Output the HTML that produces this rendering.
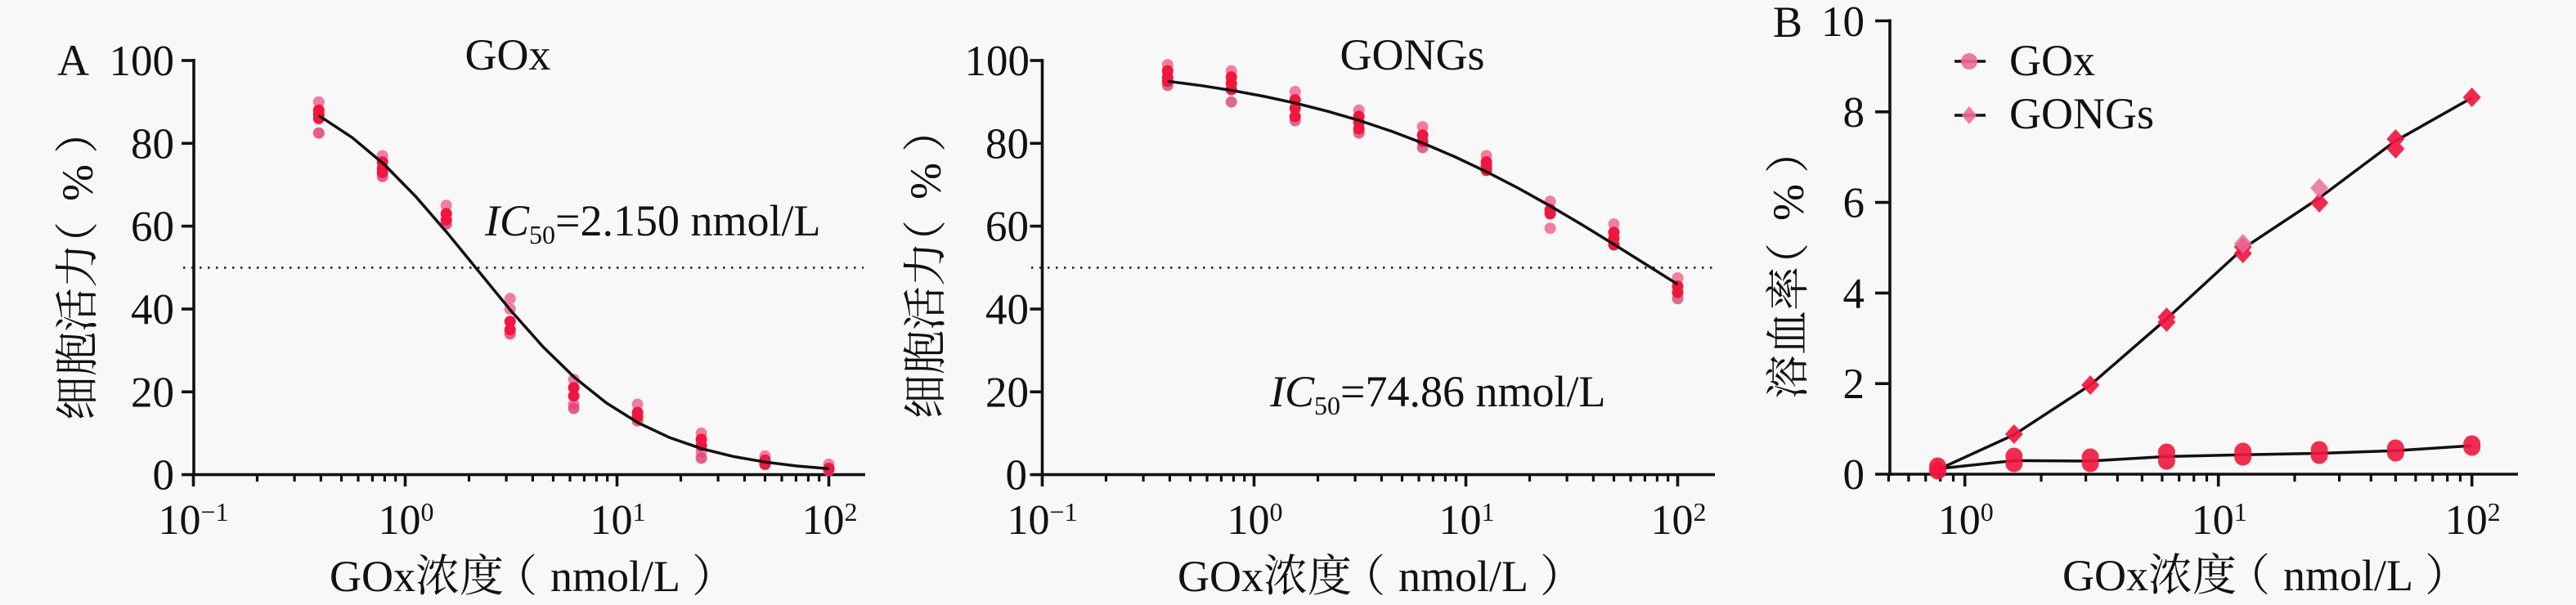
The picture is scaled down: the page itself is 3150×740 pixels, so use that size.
<!DOCTYPE html>
<html><head><meta charset="utf-8"><style>
html,body{margin:0;padding:0;background:#f8f8f8;}
svg{display:block;}
text{font-family:"Liberation Serif","Noto Serif CJK SC",serif;fill:#111;}
</style></head><body>
<svg width="3150" height="740" viewBox="0 0 3150 740" xmlns="http://www.w3.org/2000/svg">
<rect width="3150" height="740" fill="#f8f8f8"/>

<!-- ================= PANEL A ================= -->
<g stroke="#111" stroke-width="3.6" fill="none" stroke-linecap="butt">
  <line x1="237" y1="72" x2="237" y2="582.5"/>
  <line x1="222" y1="580.6" x2="1058" y2="580.6"/>
  <line x1="222" y1="74" x2="237" y2="74"/>
  <line x1="222" y1="175.3" x2="237" y2="175.3"/>
  <line x1="222" y1="276.6" x2="237" y2="276.6"/>
  <line x1="222" y1="378" x2="237" y2="378"/>
  <line x1="222" y1="479.3" x2="237" y2="479.3"/>
  <line x1="236.5" y1="580" x2="236.5" y2="595"/>
  <line x1="495.5" y1="580" x2="495.5" y2="595"/>
  <line x1="754.5" y1="580" x2="754.5" y2="595"/>
  <line x1="1013.5" y1="580" x2="1013.5" y2="595"/>
</g>
<g stroke="#111" stroke-width="3.2">
  <path d="M314.5 580v9M360.1 580v9M392.4 580v9M417.5 580v9M438 580v9M455.4 580v9M470.4 580v9M483.7 580v9
  M573.5 580v9M619.1 580v9M651.4 580v9M676.5 580v9M697 580v9M714.4 580v9M729.4 580v9M742.7 580v9
  M832.5 580v9M878.1 580v9M910.4 580v9M935.5 580v9M956 580v9M973.4 580v9M988.4 580v9M1001.7 580v9"/>
</g>
<line x1="224" y1="327.4" x2="1056" y2="327.4" stroke="#222" stroke-width="2.6" stroke-dasharray="2.5 7.5"/>

<g font-size="53" text-anchor="end">
  <text x="213" y="92">100</text>
  <text x="213" y="193.3">80</text>
  <text x="213" y="294.6">60</text>
  <text x="213" y="396">40</text>
  <text x="213" y="497.3">20</text>
  <text x="213" y="598.6">0</text>
</g>
<g font-size="52" text-anchor="middle">
  <text x="236.5" y="653">10<tspan font-size="32" dy="-16">−1</tspan></text>
  <text x="496.5" y="653">10<tspan font-size="32" dy="-16">0</tspan></text>
  <text x="755.5" y="653">10<tspan font-size="32" dy="-16">1</tspan></text>
  <text x="1014.5" y="653">10<tspan font-size="32" dy="-16">2</tspan></text>
</g>
<text x="70" y="92" font-size="54">A</text>
<text x="621" y="85" font-size="54" text-anchor="middle">GOx</text>
<text x="593" y="288" font-size="54"><tspan font-style="italic">IC</tspan><tspan font-size="32" dy="10">50</tspan><tspan dy="-10">=2.150 nmol/L</tspan></text>
<text y="723" font-size="54"><tspan x="403">GOx浓度</tspan><tspan x="603">（</tspan><tspan x="673">nmol/L</tspan><tspan x="846">）</tspan></text>
<text transform="translate(95,514) rotate(-90)" font-size="54" dominant-baseline="central"><tspan x="0">细胞活力</tspan><tspan x="189">（</tspan><tspan x="268">%</tspan><tspan x="326">）</tspan></text>

<!-- points A -->
<g>
  <g fill="#f06890" opacity="0.85">
    <circle cx="389.8" cy="124.7" r="7"/><circle cx="467.7" cy="190.5" r="7"/><circle cx="545.7" cy="251.3" r="7"/>
    <circle cx="623.7" cy="365.3" r="7"/><circle cx="701.6" cy="464.1" r="7"/><circle cx="779.6" cy="494.5" r="7"/>
    <circle cx="857.6" cy="529.9" r="7"/><circle cx="935.5" cy="557.8" r="7"/><circle cx="1013.5" cy="567.9" r="7"/>
    <circle cx="623.7" cy="378" r="7"/><circle cx="701.6" cy="494.5" r="7"/><circle cx="857.6" cy="552.7" r="7"/>
  </g>
  <g fill="#e8407a" opacity="0.85">
    <circle cx="389.8" cy="162.7" r="7"/><circle cx="467.7" cy="215.8" r="7"/><circle cx="545.7" cy="274.1" r="7"/>
    <circle cx="623.7" cy="408.4" r="7"/><circle cx="701.6" cy="499.5" r="7"/><circle cx="779.6" cy="514.7" r="7"/>
    <circle cx="857.6" cy="560.3" r="7"/><circle cx="1013.5" cy="575.5" r="7"/>
  </g>
  <g fill="#f2163f">
    <circle cx="389.8" cy="134.8" r="7"/><circle cx="389.8" cy="139.9" r="7"/><circle cx="389.8" cy="144.9" r="7"/>
    <circle cx="467.7" cy="198.1" r="7"/><circle cx="467.7" cy="205.7" r="7"/><circle cx="467.7" cy="210.8" r="7"/>
    <circle cx="545.7" cy="261.4" r="7"/><circle cx="545.7" cy="269" r="7"/>
    <circle cx="623.7" cy="393.2" r="7"/><circle cx="623.7" cy="403.3" r="7"/>
    <circle cx="701.6" cy="474.2" r="7"/><circle cx="701.6" cy="484.3" r="7"/>
    <circle cx="779.6" cy="504.6" r="7"/><circle cx="779.6" cy="509.7" r="7"/>
    <circle cx="857.6" cy="537.5" r="7"/><circle cx="857.6" cy="545.1" r="7"/>
    <circle cx="935.5" cy="562.9" r="7"/><circle cx="935.5" cy="567.9" r="7"/>
    <circle cx="1013.5" cy="573" r="7"/>
  </g>
</g>
<path d="M389.8 141.3 L430.75 168.3 L469.6 200.9 L508.4 240.4 L547.3 285.3 L586.15 332.9 L625 380.3 L663.85 424 L702.7 461.9 L741.55 492.9 L780.4 517.2 L819.25 535.4 L858.1 548.8 L896.95 558.4 L935.8 565.2 L974.65 570 L1013.5 573.3" fill="none" stroke="#111" stroke-width="3.5" stroke-linejoin="round"/>

<!-- ================= PANEL B (GONGs) ================= -->
<g stroke="#111" stroke-width="3.6" fill="none">
  <line x1="1274.5" y1="72" x2="1274.5" y2="582.5"/>
  <line x1="1259.5" y1="580.6" x2="2097" y2="580.6"/>
  <line x1="1259.5" y1="74" x2="1274.5" y2="74"/>
  <line x1="1259.5" y1="175.3" x2="1274.5" y2="175.3"/>
  <line x1="1259.5" y1="276.6" x2="1274.5" y2="276.6"/>
  <line x1="1259.5" y1="378" x2="1274.5" y2="378"/>
  <line x1="1259.5" y1="479.3" x2="1274.5" y2="479.3"/>
  <line x1="1274.5" y1="580" x2="1274.5" y2="595"/>
  <line x1="1533.5" y1="580" x2="1533.5" y2="595"/>
  <line x1="1792.5" y1="580" x2="1792.5" y2="595"/>
  <line x1="2051.5" y1="580" x2="2051.5" y2="595"/>
</g>
<g stroke="#111" stroke-width="3.2">
  <path d="M1352.5 580v9M1398.1 580v9M1430.4 580v9M1455.5 580v9M1476 580v9M1493.4 580v9M1508.4 580v9M1521.7 580v9
  M1611.5 580v9M1657.1 580v9M1689.4 580v9M1714.5 580v9M1735 580v9M1752.4 580v9M1767.4 580v9M1780.7 580v9
  M1870.5 580v9M1916.1 580v9M1948.4 580v9M1973.5 580v9M1994 580v9M2011.4 580v9M2026.4 580v9M2039.7 580v9"/>
</g>
<line x1="1261" y1="327.4" x2="2095" y2="327.4" stroke="#222" stroke-width="2.6" stroke-dasharray="2.5 7.5"/>

<g font-size="53" text-anchor="end">
  <text x="1259" y="92">100</text>
  <text x="1258" y="193.3">80</text>
  <text x="1258" y="294.6">60</text>
  <text x="1258" y="396">40</text>
  <text x="1258" y="497.3">20</text>
  <text x="1256" y="598.6">0</text>
</g>
<g font-size="52" text-anchor="middle">
  <text x="1274.5" y="653">10<tspan font-size="32" dy="-16">−1</tspan></text>
  <text x="1534.5" y="653">10<tspan font-size="32" dy="-16">0</tspan></text>
  <text x="1793.5" y="653">10<tspan font-size="32" dy="-16">1</tspan></text>
  <text x="2052.5" y="653">10<tspan font-size="32" dy="-16">2</tspan></text>
</g>
<text x="1727" y="85" font-size="54" text-anchor="middle">GONGs</text>
<text x="1553" y="497" font-size="54"><tspan font-style="italic">IC</tspan><tspan font-size="32" dy="10">50</tspan><tspan dy="-10">=74.86 nmol/L</tspan></text>
<text y="723" font-size="54"><tspan x="1440">GOx浓度</tspan><tspan x="1640">（</tspan><tspan x="1710">nmol/L</tspan><tspan x="1883">）</tspan></text>
<text transform="translate(1132,512) rotate(-90)" font-size="54" dominant-baseline="central"><tspan x="0">细胞活力</tspan><tspan x="189">（</tspan><tspan x="268">%</tspan><tspan x="326">）</tspan></text>

<g>
  <g fill="#f06890" opacity="0.85">
    <circle cx="1427.8" cy="79.1" r="7"/><circle cx="1505.7" cy="86.7" r="7"/><circle cx="1583.7" cy="112" r="7"/>
    <circle cx="1661.7" cy="134.8" r="7"/><circle cx="1739.6" cy="155.1" r="7"/><circle cx="1817.6" cy="190.5" r="7"/>
    <circle cx="1895.6" cy="246.2" r="7"/><circle cx="1973.5" cy="274.1" r="7"/><circle cx="2051.5" cy="340" r="7"/>
    <circle cx="1895.6" cy="279.2" r="7"/>
  </g>
  <g fill="#d8507e" opacity="0.85">
    <circle cx="1505.7" cy="124.7" r="7"/><circle cx="1583.7" cy="147.5" r="7"/><circle cx="1661.7" cy="162.7" r="7"/>
    <circle cx="1739.6" cy="180.4" r="7"/><circle cx="1427.8" cy="104.4" r="7"/><circle cx="2051.5" cy="365.3" r="7"/>
  </g>
  <g fill="#f2163f">
    <circle cx="1427.8" cy="86.7" r="7"/><circle cx="1427.8" cy="94.3" r="7"/><circle cx="1427.8" cy="99.3" r="7"/>
    <circle cx="1505.7" cy="94.3" r="7"/><circle cx="1505.7" cy="101.9" r="7"/><circle cx="1505.7" cy="109.5" r="7"/>
    <circle cx="1583.7" cy="122.1" r="7"/><circle cx="1583.7" cy="132.3" r="7"/><circle cx="1583.7" cy="142.4" r="7"/>
    <circle cx="1661.7" cy="142.4" r="7"/><circle cx="1661.7" cy="150" r="7"/><circle cx="1661.7" cy="157.6" r="7"/>
    <circle cx="1739.6" cy="165.2" r="7"/><circle cx="1739.6" cy="172.8" r="7"/>
    <circle cx="1817.6" cy="198.1" r="7"/><circle cx="1817.6" cy="203.2" r="7"/><circle cx="1817.6" cy="208.3" r="7"/>
    <circle cx="1895.6" cy="256.4" r="7"/><circle cx="1895.6" cy="261.4" r="7"/>
    <circle cx="1973.5" cy="284.2" r="7"/><circle cx="1973.5" cy="291.8" r="7"/><circle cx="1973.5" cy="299.4" r="7"/>
    <circle cx="2051.5" cy="350.1" r="7"/><circle cx="2051.5" cy="357.7" r="7"/>
  </g>
</g>
<path d="M1427.8 99.4 L1468.75 104.7 L1507.6 110.8 L1546.45 118 L1585.3 126.4 L1624.15 136.3 L1663 147.6 L1701.85 160.6 L1740.7 175.4 L1779.55 192 L1818.4 210.4 L1857.25 230.5 L1896.1 252.2 L1934.95 275.1 L1973.8 299 L2012.65 323.4 L2051.5 347.8" fill="none" stroke="#111" stroke-width="3.5" stroke-linejoin="round"/>

<!-- ================= PANEL C ================= -->
<g stroke="#111" stroke-width="3.6" fill="none">
  <line x1="2311" y1="23.5" x2="2311" y2="582"/>
  <line x1="2293" y1="580" x2="3079" y2="580"/>
  <line x1="2293" y1="25.5" x2="2311" y2="25.5"/>
  <line x1="2293" y1="136.8" x2="2311" y2="136.8"/>
  <line x1="2293" y1="247.6" x2="2311" y2="247.6"/>
  <line x1="2293" y1="358.4" x2="2311" y2="358.4"/>
  <line x1="2293" y1="469.2" x2="2311" y2="469.2"/>
  <line x1="2402.7" y1="579" x2="2402.7" y2="595"/>
  <line x1="2712.7" y1="579" x2="2712.7" y2="595"/>
  <line x1="3022.7" y1="579" x2="3022.7" y2="595"/>
</g>
<g stroke="#111" stroke-width="3.2">
  <path d="M2309.4 579v10M2333.9 579v10M2354.7 579v10M2372.7 579v10M2388.5 579v10
  M2496 579v10M2550.6 579v10M2589.3 579v10M2619.4 579v10M2643.9 579v10M2664.7 579v10M2682.7 579v10M2698.5 579v10
  M2806 579v10M2860.6 579v10M2899.3 579v10M2929.4 579v10M2953.9 579v10M2974.7 579v10M2992.7 579v10M3008.5 579v10"/>
</g>
<g font-size="53" text-anchor="end">
  <text x="2280" y="44">10</text>
  <text x="2280" y="155">8</text>
  <text x="2280" y="265.6">6</text>
  <text x="2280" y="376.4">4</text>
  <text x="2280" y="487.2">2</text>
  <text x="2280" y="598">0</text>
</g>
<g font-size="52" text-anchor="middle">
  <text x="2403.7" y="653">10<tspan font-size="32" dy="-16">0</tspan></text>
  <text x="2713.7" y="653">10<tspan font-size="32" dy="-16">1</tspan></text>
  <text x="3023.7" y="653">10<tspan font-size="32" dy="-16">2</tspan></text>
</g>
<text x="2168" y="45" font-size="54">B</text>
<text y="722" font-size="54"><tspan x="2522">GOx浓度</tspan><tspan x="2722">（</tspan><tspan x="2792">nmol/L</tspan><tspan x="2965">）</tspan></text>
<text transform="translate(2187,488) rotate(-90)" font-size="54" dominant-baseline="central"><tspan x="0">溶血率</tspan><tspan x="137">（</tspan><tspan x="218">%</tspan><tspan x="276">）</tspan></text>

<!-- legend -->
<line x1="2390" y1="75" x2="2428" y2="75" stroke="#111" stroke-width="3.5"/>
<circle cx="2408" cy="75" r="10" fill="#f06a8e" opacity="0.9"/>
<line x1="2390" y1="141" x2="2428" y2="141" stroke="#111" stroke-width="3.5"/>
<path d="M2408 130 L2417 141 L2408 152 L2399 141 Z" fill="#f06a8e" opacity="0.9"/>
<text x="2457" y="92" font-size="54">GOx</text>
<text x="2457" y="157" font-size="54">GONGs</text>

<!-- series lines -->
<polyline points="2369.5,574.5 2462.8,531.8 2556.1,470.9 2649.4,390 2742.7,304.1 2836.1,242.1 2929.4,172.3 3022.7,119.6" fill="none" stroke="#111" stroke-width="3.5" stroke-linejoin="round"/>
<polyline points="2369.5,573.4 2462.8,563.4 2556.1,563.9 2649.4,558.4 2742.7,556.2 2836.1,554.5 2929.4,551.2 3022.7,545.1" fill="none" stroke="#111" stroke-width="3.5" stroke-linejoin="round"/>

<!-- GOx circles -->
<g fill="#f2163f" opacity="0.9">
  <circle cx="2369.5" cy="570" r="10.5"/><circle cx="2369.5" cy="576" r="10.5"/>
  <circle cx="2462.8" cy="558" r="10.5"/><circle cx="2462.8" cy="567" r="10.5"/>
  <circle cx="2556.1" cy="559" r="10.5"/><circle cx="2556.1" cy="567" r="10.5"/>
  <circle cx="2649.4" cy="553" r="10.5"/><circle cx="2649.4" cy="564" r="10.5"/>
  <circle cx="2742.7" cy="552" r="10.5"/><circle cx="2742.7" cy="559" r="10.5"/>
  <circle cx="2836.1" cy="550" r="10.5"/><circle cx="2836.1" cy="557" r="10.5"/>
  <circle cx="2929.4" cy="548" r="10.5"/><circle cx="2929.4" cy="554" r="10.5"/>
  <circle cx="3022.7" cy="543" r="10.5"/><circle cx="3022.7" cy="547" r="10.5"/>
</g>
<!-- GONGs diamonds -->
<g fill="#f2163f" opacity="0.92">
  <path d="M2369.5 562 l11 12 l-11 12 l-11 -12 Z"/>
  <path d="M2462.8 519 l11 12 l-11 12 l-11 -12 Z"/>
  <path d="M2556.1 459 l11 12 l-11 12 l-11 -12 Z"/>
  <path d="M2649.4 376 l11 12 l-11 12 l-11 -12 Z"/>
  <path d="M2649.4 382 l11 12 l-11 12 l-11 -12 Z"/>
  <path d="M2742.7 290 l11 12 l-11 12 l-11 -12 Z"/>
  <path d="M2742.7 298 l11 12 l-11 12 l-11 -12 Z"/>
  <path d="M2836.1 236 l11 12 l-11 12 l-11 -12 Z"/>
  <path d="M2929.4 158 l11 12 l-11 12 l-11 -12 Z"/>
  <path d="M2929.4 170 l11 12 l-11 12 l-11 -12 Z"/>
  <path d="M3022.7 107 l11 12 l-11 12 l-11 -12 Z"/>
</g>
<g fill="#e8709a" opacity="0.85">
  <path d="M2836.1 218 l11 12 l-11 12 l-11 -12 Z"/>
  <path d="M2742.7 286 l11 12 l-11 12 l-11 -12 Z"/>
</g>
</svg>
</body></html>
